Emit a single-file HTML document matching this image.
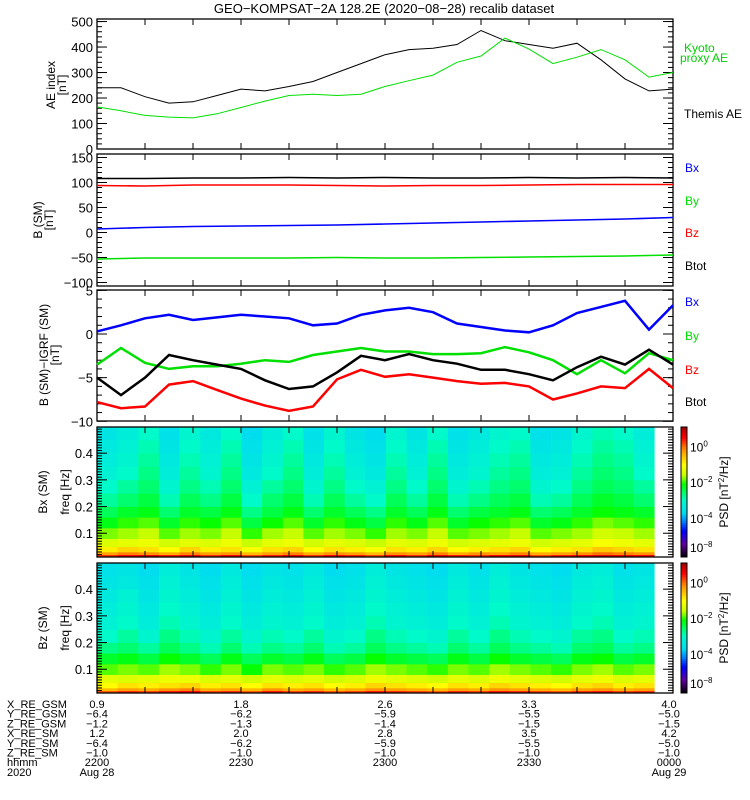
<!DOCTYPE html>
<html><head><meta charset="utf-8">
<style>
html,body{margin:0;padding:0;background:#fff;}
svg{display:block;font-family:"Liberation Sans",sans-serif;}
</style></head>
<body>
<svg id="chart" width="750" height="800" viewBox="0 0 750 800" xmlns="http://www.w3.org/2000/svg">
<text x="384" y="13" font-size="13" text-anchor="middle">GEO−KOMPSAT−2A 128.2E (2020−08−28) recalib dataset</text>
<g id="layer"></g>
</svg>
<script>
// ---- data ----
const t25 = [0,5,10,15,20,25,30,35,40,45,50,55,60,65,70,75,80,85,90,95,100,105,110,115,120];
const t13 = [0,10,20,30,40,50,60,70,80,90,100,110,120];
const themisAE = [240,240,205,180,185,210,235,228,245,265,300,335,370,390,395,410,465,425,410,395,415,350,275,228,235];
const kyotoAE  = [165,150,132,125,122,138,163,188,210,215,210,215,245,268,290,340,365,435,392,335,360,390,350,282,300];
const p2Btot = [108,108,109,109,110,109,110,109,109,110,109,110,109];
const p2Bz   = [94,93,95,95,95,94,93,94,94,95,96,96,96];
const p2Bx   = [7,10,12,13,14,15,17,19,21,23,25,27,30];
const p2By   = [-53,-51,-51,-51,-51,-50,-51,-51,-50,-49,-48,-47,-45];
const p3Bx   = [0.3,1.0,1.8,2.2,1.6,1.9,2.2,2.0,1.8,1.0,1.2,2.2,2.7,3.0,2.5,1.2,0.8,0.4,0.2,1.0,2.4,3.1,3.8,0.5,3.3];
const p3By   = [-3.5,-1.6,-3.3,-4.0,-3.7,-3.7,-3.4,-3.0,-3.2,-2.4,-2.0,-1.6,-2.0,-2.0,-2.3,-2.3,-2.2,-1.5,-2.1,-3.0,-4.6,-3.0,-4.5,-2.2,-3.0];
const p3Btot = [-5.0,-7.0,-5.0,-2.4,-3.0,-3.5,-4.0,-5.3,-6.3,-6.0,-4.4,-2.5,-3.0,-2.3,-3.0,-3.4,-4.1,-4.1,-4.6,-5.3,-3.8,-2.6,-3.5,-1.8,-3.5];
const p3Bz   = [-7.8,-8.5,-8.3,-5.8,-5.4,-6.4,-7.4,-8.2,-8.8,-8.3,-5.2,-4.1,-4.9,-4.6,-5.0,-5.4,-5.7,-5.6,-6.0,-7.5,-6.8,-6.0,-6.2,-4.0,-6.2];
const freqEdges = [0.011,0.02,0.03,0.05,0.08,0.12,0.16,0.2,0.25,0.3,0.35,0.4,0.45,0.498];
const specTimeStart = 0, specBinMinutes = 4.3, specCols = 27;
const psdBx = [
[0.3,0.5,0.6,0.4,0.6,0.3,0.5,0.2,0.4,0.6,0.3,0.5,0.4,0.2,0.5,0.3,0.6,0.4,0.3,0.5,0.6,0.2,0.4,0.5,0.7,0.6,0.5],
[-0.3,-0.1,-0.2,-0.4,-0.1,-0.3,-0.2,-0.5,-0.3,-0.1,-0.4,-0.2,-0.3,-0.5,-0.2,-0.3,-0.1,-0.4,-0.2,-0.3,-0.1,-0.4,-0.3,-0.2,0.0,-0.1,-0.2],
[-0.9,-0.7,-0.8,-1.0,-0.7,-0.9,-0.8,-1.1,-0.8,-0.7,-1.0,-0.8,-0.9,-1.1,-0.8,-0.9,-0.7,-1.0,-0.9,-0.8,-0.7,-1.0,-0.9,-0.8,-0.6,-0.7,-0.8],
[-1.4,-1.3,-1.2,-1.5,-1.3,-1.4,-1.2,-1.6,-1.3,-1.2,-1.5,-1.3,-1.4,-1.6,-1.3,-1.4,-1.2,-1.5,-1.4,-1.3,-1.2,-1.5,-1.4,-1.3,-1.1,-1.2,-1.3],
[-1.8,-1.7,-1.6,-1.9,-1.7,-1.8,-1.6,-2.0,-1.7,-1.6,-1.9,-1.7,-1.8,-2.0,-1.7,-1.8,-1.6,-1.9,-1.8,-1.7,-1.6,-1.9,-1.8,-1.7,-1.5,-1.6,-1.7],
[-2.2,-2.0,-1.9,-2.3,-2.0,-2.1,-1.9,-2.4,-2.1,-1.9,-2.3,-2.0,-2.2,-2.4,-2.0,-2.2,-1.9,-2.3,-2.1,-2.0,-1.9,-2.3,-2.2,-2.0,-1.8,-1.9,-2.0],
[-2.5,-2.3,-2.2,-2.6,-2.3,-2.4,-2.2,-2.7,-2.4,-2.2,-2.6,-2.3,-2.5,-2.7,-2.3,-2.5,-2.2,-2.6,-2.4,-2.3,-2.2,-2.6,-2.5,-2.3,-2.1,-2.2,-2.3],
[-2.8,-2.6,-2.4,-2.9,-2.5,-2.7,-2.4,-3.0,-2.6,-2.4,-2.9,-2.5,-2.8,-3.0,-2.5,-2.8,-2.4,-2.9,-2.7,-2.5,-2.4,-2.9,-2.8,-2.5,-2.3,-2.4,-2.6],
[-3.0,-2.8,-2.6,-3.1,-2.7,-2.9,-2.6,-3.2,-2.8,-2.6,-3.1,-2.7,-3.0,-3.2,-2.7,-3.0,-2.6,-3.1,-2.9,-2.7,-2.6,-3.1,-3.0,-2.7,-2.5,-2.6,-2.8],
[-3.2,-3.0,-2.7,-3.3,-2.8,-3.1,-2.7,-3.4,-3.0,-2.7,-3.3,-2.8,-3.2,-3.4,-2.8,-3.2,-2.7,-3.3,-3.1,-2.8,-2.7,-3.3,-3.2,-2.8,-2.6,-2.7,-3.0],
[-3.3,-3.1,-2.8,-3.4,-2.9,-3.2,-2.8,-3.5,-3.1,-2.8,-3.4,-2.9,-3.3,-3.5,-2.9,-3.3,-2.8,-3.4,-3.2,-2.9,-2.8,-3.4,-3.3,-2.9,-2.7,-2.8,-3.1],
[-3.4,-3.2,-2.9,-3.5,-3.0,-3.3,-2.9,-3.6,-3.2,-2.9,-3.5,-3.0,-3.4,-3.6,-3.0,-3.4,-2.9,-3.5,-3.3,-3.0,-2.9,-3.5,-3.4,-3.0,-2.8,-2.9,-3.2],
[-3.5,-3.3,-3.0,-3.6,-3.1,-3.4,-3.0,-3.7,-3.3,-3.0,-3.6,-3.1,-3.5,-3.7,-3.1,-3.5,-3.0,-3.6,-3.4,-3.1,-3.0,-3.6,-3.5,-3.1,-2.9,-3.0,-3.3]
];
const psdBz = [
[0.1,0.3,0.2,0.4,0.5,0.2,0.3,0.1,0.4,0.2,0.3,0.1,0.2,0.4,0.3,0.2,0.1,0.3,0.2,0.4,0.3,0.2,0.1,0.3,0.4,0.2,0.3],
[-0.5,-0.3,-0.4,-0.2,-0.1,-0.4,-0.3,-0.5,-0.2,-0.4,-0.3,-0.5,-0.4,-0.2,-0.3,-0.4,-0.5,-0.3,-0.4,-0.2,-0.3,-0.4,-0.5,-0.3,-0.2,-0.4,-0.3],
[-1.0,-0.8,-0.9,-0.8,-0.7,-0.9,-0.8,-1.0,-0.8,-0.9,-0.8,-1.0,-0.9,-0.7,-0.8,-0.9,-1.0,-0.8,-0.9,-0.7,-0.8,-0.9,-1.0,-0.8,-0.7,-0.9,-0.8],
[-1.3,-1.4,-1.3,-1.2,-1.2,-1.4,-1.3,-1.5,-1.3,-1.4,-1.3,-1.5,-1.4,-1.2,-1.3,-1.4,-1.5,-1.3,-1.4,-1.2,-1.3,-1.4,-1.5,-1.3,-1.2,-1.4,-1.3],
[-1.9,-1.8,-1.9,-1.7,-1.8,-2.0,-1.8,-2.1,-1.8,-1.9,-1.8,-2.0,-1.9,-1.7,-1.8,-1.9,-2.0,-1.8,-1.9,-1.7,-1.8,-1.9,-2.0,-1.8,-1.7,-1.9,-1.8],
[-2.3,-2.2,-2.4,-2.1,-2.3,-2.5,-2.2,-2.5,-2.3,-2.4,-2.2,-2.5,-2.4,-2.1,-2.3,-2.4,-2.5,-2.2,-2.4,-2.1,-2.3,-2.4,-2.5,-2.2,-2.1,-2.4,-2.3],
[-2.7,-2.6,-2.8,-2.5,-2.7,-2.9,-2.6,-2.9,-2.7,-2.8,-2.6,-2.9,-2.8,-2.5,-2.7,-2.8,-2.9,-2.6,-2.8,-2.5,-2.7,-2.8,-2.9,-2.6,-2.5,-2.8,-2.7],
[-3.0,-2.8,-3.1,-2.7,-2.9,-3.1,-2.8,-3.1,-2.9,-3.0,-2.8,-3.1,-3.0,-2.7,-2.9,-3.0,-3.1,-2.8,-3.0,-2.7,-2.9,-3.0,-3.1,-2.8,-2.7,-3.0,-2.9],
[-3.2,-3.0,-3.3,-2.9,-3.1,-3.3,-3.0,-3.3,-3.1,-3.2,-3.0,-3.3,-3.2,-2.9,-3.1,-3.2,-3.3,-3.0,-3.2,-2.9,-3.1,-3.2,-3.3,-3.0,-2.9,-3.2,-3.1],
[-3.3,-3.1,-3.4,-3.0,-3.2,-3.4,-3.1,-3.4,-3.2,-3.3,-3.1,-3.4,-3.3,-3.0,-3.2,-3.3,-3.4,-3.1,-3.3,-3.0,-3.2,-3.3,-3.4,-3.1,-3.0,-3.3,-3.2],
[-3.4,-3.2,-3.5,-3.1,-3.3,-3.5,-3.2,-3.5,-3.3,-3.4,-3.2,-3.5,-3.4,-3.1,-3.3,-3.4,-3.5,-3.2,-3.4,-3.1,-3.3,-3.4,-3.5,-3.2,-3.1,-3.4,-3.3],
[-3.5,-3.4,-3.6,-3.2,-3.4,-3.6,-3.3,-3.6,-3.4,-3.5,-3.3,-3.6,-3.5,-3.2,-3.4,-3.5,-3.6,-3.3,-3.5,-3.2,-3.4,-3.5,-3.6,-3.3,-3.2,-3.5,-3.4],
[-3.6,-3.5,-3.7,-3.3,-3.5,-3.7,-3.4,-3.7,-3.5,-3.6,-3.4,-3.7,-3.6,-3.3,-3.5,-3.6,-3.7,-3.4,-3.6,-3.3,-3.5,-3.6,-3.7,-3.4,-3.3,-3.6,-3.5]
];
const aeTicks = [0,100,200,300,400,500];
const bTicks = [-100,-50,0,50,100,150];
const dbTicks = [-10,-5,0,5];
const fTicks = [0.1,0.2,0.3,0.4];
const cbTickVals = [0,-2,-4,-5.65];
const cbTickExp = ["0","−2","−4","−8"];
const ephemLabels = ["X_RE_GSM","Y_RE_GSM","Z_RE_GSM","X_RE_SM","Y_RE_SM","Z_RE_SM","hhmm","2020"];
const ephemTimes = [0,30,60,90,120];
const ephemCols = [
 ["0.9","−6.4","−1.2","1.2","−6.4","−1.0","2200","Aug 28"],
 ["1.8","−6.2","−1.3","2.0","−6.2","−1.0","2230",""],
 ["2.6","−5.9","−1.4","2.8","−5.9","−1.0","2300",""],
 ["3.3","−5.5","−1.5","3.5","−5.5","−1.0","2330",""],
 ["4.0","−5.0","−1.5","4.2","−5.0","−1.0","0000","Aug 29"]
];

// ---- scales ----
const X0=97, X1=673;
const xT = t => X0 + t*(X1-X0)/120;
const P = {
 p1:{top:19,bot:149,y:v=>149 - v*(130/510)},
 p2:{top:154,bot:286,y:v=>286 - (v+107)*0.5},
 p3:{top:290,bot:421,y:v=>334 - v*8.73},
 p4:{top:427,bot:557,y:f=>557 - (f-0.011)*(130/0.487)},
 p5:{top:563,bot:693,y:f=>693 - (f-0.011)*(130/0.487)}
};
const LMIN=-6.2, LMAX=1.1;
const stops=[[0,[0,0,0]],[0.1,[96,0,160]],[0.2,[0,0,255]],[0.27,[0,120,255]],[0.34,[0,220,240]],[0.44,[0,250,200]],[0.5,[0,255,100]],[0.56,[0,255,0]],[0.63,[200,255,0]],[0.71,[255,255,0]],[0.83,[255,140,0]],[0.92,[255,0,0]],[1,[160,0,0]]];
function cmap(v){
 let f=(v-LMIN)/(LMAX-LMIN); f=Math.max(0,Math.min(1,f));
 for(let i=1;i<stops.length;i++){ if(f<=stops[i][0]){const a=stops[i-1],b=stops[i];const u=(f-a[0])/(b[0]-a[0]);
  const c=a[1].map((x,k)=>Math.round(x+(b[1][k]-x)*u));return `rgb(${c[0]},${c[1]},${c[2]})`;}}
 return 'rgb(160,0,0)';
}
const NS='http://www.w3.org/2000/svg';
const layer=document.getElementById('layer');
function el(tag,attrs,parent){const e=document.createElementNS(NS,tag);for(const k in attrs)e.setAttribute(k,attrs[k]);(parent||layer).appendChild(e);return e;}
function txt(x,y,s,attrs,parent){const e=el('text',Object.assign({x:x,y:y,'font-size':12},attrs||{}),parent);e.textContent=s;return e;}

function series(ts,vals,py,color,name,w){
 const d=ts.map((t,i)=>(i?'L':'M')+xT(t).toFixed(1)+','+py(vals[i]).toFixed(1)).join(' ');
 const p=el('path',{d:d,fill:'none',stroke:color,'stroke-width':w||1});
 
 
}
function frame(pp,name,minorStep,minorFrom,minorTo){
 const g=el('g',{});
 
 
 el('rect',{x:X0,y:pp.top,width:X1-X0,height:pp.bot-pp.top,fill:'none',stroke:'#000','stroke-width':1.3},g);
 for(let t=10;t<120;t+=10){const x=xT(t);
  el('line',{x1:x,x2:x,y1:pp.bot,y2:pp.bot-6,stroke:'#000'},g);
  el('line',{x1:x,x2:x,y1:pp.top,y2:pp.top+6,stroke:'#000'},g);}
 for(let v=minorFrom;v<=minorTo+1e-9;v+=minorStep){const y=pp.y(v); if(y<pp.top||y>pp.bot)continue;
  el('line',{x1:X0,x2:X0+5,y1:y,y2:y,stroke:'#000'},g);
  el('line',{x1:X1,x2:X1-5,y1:y,y2:y,stroke:'#000'},g);}
 return g;
}
function majors(pp,ticks,fmt,g){
 ticks.forEach(v=>{const y=pp.y(v);
  el('line',{x1:X0,x2:X0+10,y1:y,y2:y,stroke:'#000'},g);
  el('line',{x1:X1,x2:X1-10,y1:y,y2:y,stroke:'#000'},g);
  const t=txt(X0-4,y+5,fmt(v),{'text-anchor':'end','font-size':13},g);
  
  });
}
function ytitle(x,y,lines,name){
 const g=el('g',{transform:`translate(${x},${y}) rotate(-90)`});
 
 
 lines.forEach((s,i)=>txt(0,i*11,s,{'text-anchor':'middle','font-size':12},g));
}
const minus=v=>String(v).replace('-','−');

// ---- panel 1 ----
let g1=frame(P.p1,'ae-panel',20,0,500); majors(P.p1,aeTicks,minus,g1);
series(t25,themisAE,P.p1.y,'#000','themis-ae-line');
series(t25,kyotoAE,P.p1.y,'#00e000','kyoto-ae-line');
ytitle(55,85,['AE index','[nT]'],'ae-y-title');
let l;
l=txt(684,52,'Kyoto',{fill:'#00d000'});  
l=txt(680,62,'proxy AE',{fill:'#00d000'});  
l=txt(684,118,'Themis AE',{fill:'#000'});  

// ---- panel 2 ----
let g2=frame(P.p2,'b-sm-panel',10,-100,150); majors(P.p2,bTicks,minus,g2);
series(t13,p2Btot,P.p2.y,'#000','b-btot-line',1.5);
series(t13,p2Bz,P.p2.y,'#ff0000','b-bz-line',1.5);
series(t13,p2Bx,P.p2.y,'#0000ff','b-bx-line',1.5);
series(t13,p2By,P.p2.y,'#00e000','b-by-line',1.5);
ytitle(42,220,['B (SM)','[nT]'],'b-y-title');
[['Bx','#0000ff',172],['By','#00e000',205],['Bz','#ff0000',237],['Btot','#000',270]].forEach(a=>{
 const e=txt(685,a[2],a[0],{fill:a[1]});
 
 });

// ---- panel 3 ----
let g3=frame(P.p3,'b-minus-igrf-panel',1,-10,5); majors(P.p3,dbTicks,minus,g3);
series(t25,p3Bx,P.p3.y,'#0000ff','dbx-line',2.5);
series(t25,p3By,P.p3.y,'#00e000','dby-line',2.5);
series(t25,p3Btot,P.p3.y,'#000','dbtot-line',2.5);
series(t25,p3Bz,P.p3.y,'#ff0000','dbz-line',2.5);
ytitle(48,355,['B (SM)−IGRF (SM)','[nT]'],'db-y-title');
[['Bx','#0000ff',306],['By','#00e000',340],['Bz','#ff0000',374],['Btot','#000',406]].forEach(a=>{
 const e=txt(685,a[2],a[0],{fill:a[1]});
 
 });

// ---- spectrograms ----
function spectro(pp,mat,name,title){
 const g=el('g',{});
 
 
 mat.forEach((row,b)=>{
  const y1=pp.y(freqEdges[b+1]), y2=pp.y(freqEdges[b]);
  row.forEach((v,c)=>{
   const xa=xT(specTimeStart+c*specBinMinutes), xb=xT(specTimeStart+(c+1)*specBinMinutes);
   const r=el('rect',{x:xa.toFixed(1),y:y1.toFixed(1),width:(xb-xa+0.4).toFixed(1),height:(y2-y1+0.4).toFixed(1),fill:cmap(v)},g);
   
   
  });
 });
 const fg=frame(pp,name+'-axes',0.01,0.02,0.49); majors(pp,fTicks,v=>v.toFixed(1),fg);
 ytitle(47,(pp.top+pp.bot)/2,[title],name+'-title');
 ytitle(69,(pp.top+pp.bot)/2,['freq [Hz]'],name+'-freq-title');
 const cb=el('g',{});
 
 
 const n=65;
 for(let i=0;i<n;i++){const v=LMIN+(LMAX-LMIN)*(i+0.5)/n;
  const ya=pp.bot-(pp.bot-pp.top)*(i+1)/n;
  el('rect',{x:681,y:ya.toFixed(2),width:6,height:((pp.bot-pp.top)/n+0.3).toFixed(2),fill:cmap(v)},cb);}
 el('rect',{x:681,y:pp.top,width:6,height:pp.bot-pp.top,fill:'none',stroke:'#000'},cb);
 cbTickVals.forEach((v,i)=>{const y=pp.bot-(v-LMIN)/(LMAX-LMIN)*(pp.bot-pp.top);
  const t=txt(690,y+5,'10',{'font-size':12},cb);
  const s=el('tspan',{dy:-5,'font-size':8},t); s.textContent=cbTickExp[i];});
 const gl=el('g',{transform:`translate(728,${(pp.top+pp.bot)/2}) rotate(-90)`},cb);
 const tt=txt(0,0,'PSD [nT',{'text-anchor':'middle','font-size':12},gl);
 const sp=el('tspan',{dy:-4,'font-size':8},tt); sp.textContent='2';
 const sp2=el('tspan',{dy:4},tt); sp2.textContent='/Hz]';
}
spectro(P.p4,psdBx,'bx-spectrogram','Bx (SM)');
spectro(P.p5,psdBz,'bz-spectrogram','Bz (SM)');

// ---- ephemeris ----
const eg=el('g',{});


ephemLabels.forEach((s,i)=>txt(7,708+i*9.7,s,{'font-size':11},eg));
ephemCols.forEach((col,c)=>{const x=xT(ephemTimes[c]);
 col.forEach((s,i)=>{ if(s) txt(x+(c===4?-4:0),708+i*9.7,s,{'font-size':11,'text-anchor':'middle'},eg);});});
</script>
</body></html>
